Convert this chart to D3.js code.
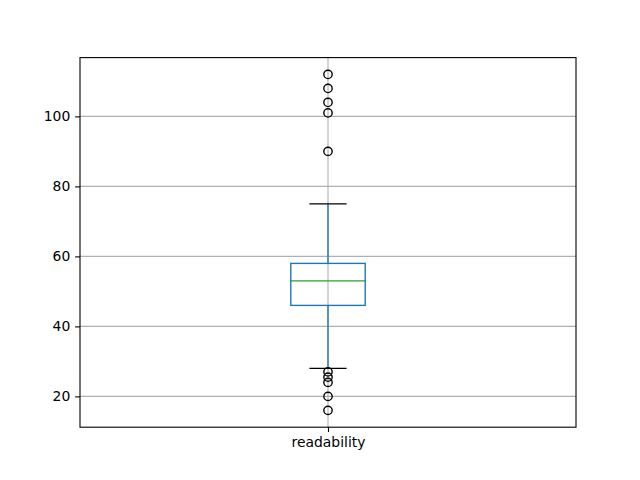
<!DOCTYPE html>
<html><head><meta charset="utf-8">
<script src="https://cdn.jsdelivr.net/npm/d3@7"></script>
<style>body{margin:0;background:#fff}svg{display:block}text{font-family:"DejaVu Sans";font-size:13.9px;fill:#000}</style>
</head><body>
<script>
const categories = ["readability"];
const q1 = [46], median = [53], q3 = [58];
const whiskerLow = [28], whiskerHigh = [75];
const outliers = [[112, 108, 104, 101, 90, 27, 25.5, 24, 20, 16]];
const yTicks = [20, 40, 60, 80, 100];

const W = 640, H = 480, L = 80, R = 576, T = 57.6, B = 427.2;
const svg = d3.select("body").append("svg").attr("width", W).attr("height", H);
const y = d3.scaleLinear().domain([11.2, 116.8]).range([B, T]);
const x = d3.scaleLinear().domain([0.5, categories.length + 0.5]).range([L, R]);

// grid
const g = svg.append("g");
yTicks.forEach(v => g.append("line").attr("x1", L).attr("x2", R).attr("y1", y(v)).attr("y2", y(v)).attr("stroke", "#b0b0b0").attr("stroke-width", 1.1));
categories.forEach((c, i) => g.append("line").attr("x1", x(i + 1)).attr("x2", x(i + 1)).attr("y1", T).attr("y2", B).attr("stroke", "#b0b0b0").attr("stroke-width", 1.1));

categories.forEach((c, i) => {
  const cx = x(i + 1), bw = x(1.075) - x(1), cw = x(1.0375) - x(1);
  const s = svg.append("g");
  s.append("line").attr("x1", cx).attr("x2", cx).attr("y1", y(q3[i])).attr("y2", y(whiskerHigh[i])).attr("stroke", "#1f77b4").attr("stroke-width", 1.39);
  s.append("line").attr("x1", cx).attr("x2", cx).attr("y1", y(q1[i])).attr("y2", y(whiskerLow[i])).attr("stroke", "#1f77b4").attr("stroke-width", 1.39);
  s.append("rect").attr("x", cx - bw).attr("width", 2 * bw).attr("y", y(q3[i])).attr("height", y(q1[i]) - y(q3[i])).attr("fill", "none").attr("stroke", "#1f77b4").attr("stroke-width", 1.39);
  s.append("line").attr("x1", cx - bw).attr("x2", cx + bw).attr("y1", y(median[i])).attr("y2", y(median[i])).attr("stroke", "#2ca02c").attr("stroke-width", 1.39);
  [whiskerLow[i], whiskerHigh[i]].forEach(v => s.append("line").attr("x1", cx - cw).attr("x2", cx + cw).attr("y1", y(v)).attr("y2", y(v)).attr("stroke", "#000").attr("stroke-width", 1.39));
  s.selectAll("circle").data(outliers[i]).join("circle").attr("cx", cx).attr("cy", d => y(d)).attr("r", 4.17).attr("fill", "none").attr("stroke", "#000").attr("stroke-width", 1.39);
});

// axes
const ya = svg.append("g").attr("transform", `translate(${L},0)`).call(d3.axisLeft(y).tickValues(yTicks).tickSize(4.86).tickPadding(4.86));
const xa = svg.append("g").attr("transform", `translate(0,${B})`).call(d3.axisBottom(x).tickValues(categories.map((c, i) => i + 1)).tickFormat((d, i) => categories[i]).tickSize(4.86).tickPadding(4.86));
[ya, xa].forEach(a => { a.select(".domain").remove(); a.selectAll("line").attr("stroke", "#000").attr("stroke-width", 1.1); a.selectAll("text").attr("font-family", "DejaVu Sans").attr("font-size", 13.9).attr("fill", "#000"); });
svg.append("rect").attr("x", L).attr("y", T).attr("width", R - L).attr("height", B - T).attr("fill", "none").attr("stroke", "#000").attr("stroke-width", 1.1);
</script>
</body></html>
